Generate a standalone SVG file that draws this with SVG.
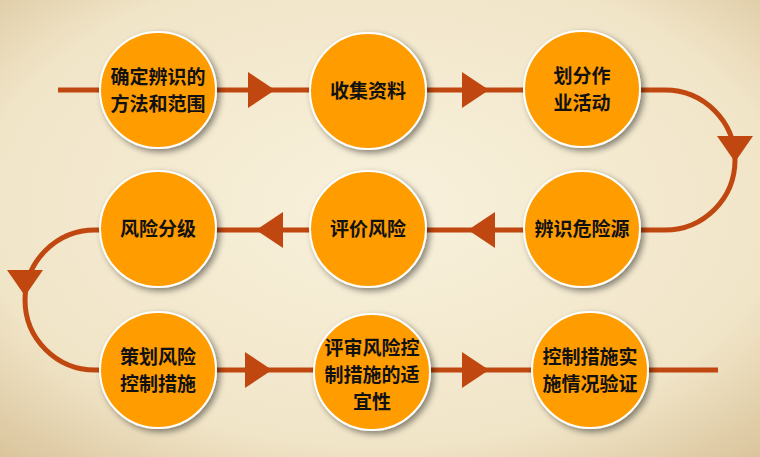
<svg xmlns="http://www.w3.org/2000/svg" width="760" height="457" viewBox="0 0 760 457">
<defs>
<radialGradient id="bg" cx="50%" cy="45%" r="75%"><stop offset="0" stop-color="#f8f1dc"/><stop offset="0.7" stop-color="#f1e5c8"/><stop offset="1" stop-color="#d9c39a"/></radialGradient>
<filter id="sh" x="-20%" y="-20%" width="150%" height="150%"><feDropShadow dx="3" dy="3" stdDeviation="3" flood-color="#000" flood-opacity="0.45"/></filter>
<style>
.ln{fill:none;stroke:#c0470f;stroke-width:5}
.ar{fill:#c0470f}
.c{fill:#ff9c00;stroke:#fff;stroke-width:2;filter:url(#sh)}
.t{font-family:"Noto Sans CJK SC","Liberation Sans",sans-serif;font-size:19px;font-weight:bold;fill:#111;text-anchor:middle}
</style>
</defs>
<rect width="760" height="457" fill="url(#bg)"/>
<g id="connectors">
<path class="ln" d="M58 90H665A70 70 0 0 1 665 230H95A70 70 0 0 0 95 370H718"/>
<polygon class="ar" points="248,72 275,90 248,108"/>
<polygon class="ar" points="462,72 489,90 462,108"/>
<polygon class="ar" points="717,136 753,136 735,162"/>
<polygon class="ar" points="495,212 468,230 495,248"/>
<polygon class="ar" points="283,212 256,230 283,248"/>
<polygon class="ar" points="7,270 43,270 25,296"/>
<polygon class="ar" points="245,352 272,370 245,388"/>
<polygon class="ar" points="462,352 489,370 462,388"/>
</g>
<g id="n1"><circle class="c" cx="158" cy="90" r="58"/><text class="t" x="158" y="84">确定辨识的</text><text class="t" x="158" y="111">方法和范围</text></g>
<g id="n2"><circle class="c" cx="368" cy="91" r="58"/><text class="t" x="368" y="98">收集资料</text></g>
<g id="n3"><circle class="c" cx="582" cy="89" r="58"/><text class="t" x="582" y="83">划分作</text><text class="t" x="582" y="110">业活动</text></g>
<g id="n4"><circle class="c" cx="582" cy="229" r="58"/><text class="t" x="582" y="236">辨识危险源</text></g>
<g id="n5"><circle class="c" cx="368" cy="229" r="58"/><text class="t" x="368" y="236">评价风险</text></g>
<g id="n6"><circle class="c" cx="158" cy="229" r="58"/><text class="t" x="158" y="236">风险分级</text></g>
<g id="n7"><circle class="c" cx="158" cy="370" r="58"/><text class="t" x="158" y="364">策划风险</text><text class="t" x="158" y="391">控制措施</text></g>
<g id="n8"><circle class="c" cx="372" cy="372" r="58"/><text class="t" x="372" y="355">评审风险控</text><text class="t" x="372" y="382">制措施的适</text><text class="t" x="372" y="409">宜性</text></g>
<g id="n9"><circle class="c" cx="590" cy="370" r="58"/><text class="t" x="590" y="364">控制措施实</text><text class="t" x="590" y="391">施情况验证</text></g>
</svg>
